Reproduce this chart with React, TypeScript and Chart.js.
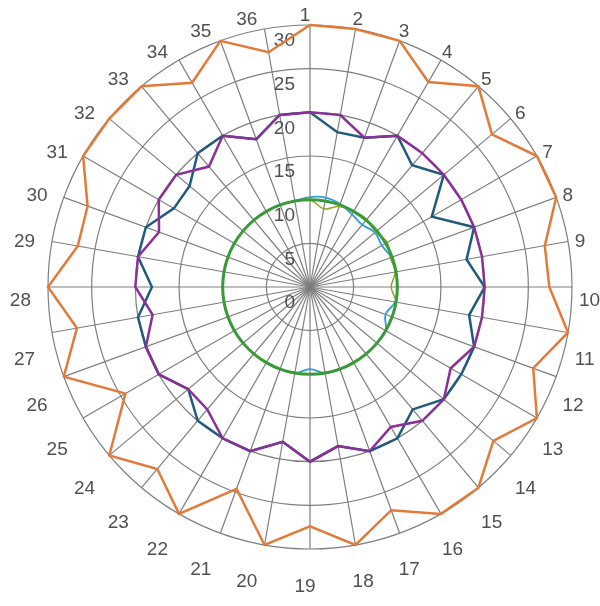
import { useEffect, useRef } from "react";
import { Chart, registerables } from "chart.js";

Chart.register(...registerables);

// spokes, clockwise from the top
const categories = [
  "1", "2", "3", "4", "5", "6", "7", "8", "9", "10", "11", "12",
  "13", "14", "15", "16", "17", "18", "19", "20", "21", "22", "23", "24",
  "25", "26", "27", "28", "29", "30", "31", "32", "33", "34", "35", "36",
];

const tickValues = [0, 5, 10, 15, 20, 25, 30];

const orangeValues = [
  30, 30, 30, 27.1, 30, 27.2, 30, 30, 27.3, 27.4, 30, 27.2,
  30, 27.4, 30, 30, 27.2, 30, 27.4, 30, 24.6, 30, 27.2, 30,
  24.4, 30, 27.1, 30, 27, 27.1, 30, 30, 30, 27, 30, 27.3,
];

const purpleValues = [
  20, 20, 18.2, 20, 20, 20, 20, 20, 20, 20, 20, 20,
  18.6, 20, 20, 18.5, 20, 18.5, 20, 18, 20, 20, 18.3, 18.2,
  20, 20, 18.3, 20, 20, 18.4, 20, 20, 18, 20, 18, 20,
];

const tealValues = [
  20, 18, 18.2, 20, 18.2, 20, 16.1, 20, 18.2, 20, 18.5, 20,
  20, 20, 18.3, 20, 20, 18.5, 20, 18, 20, 20, 20, 18.2,
  20, 20, 20, 18.1, 20, 20, 18, 18, 20, 20, 18, 20,
];

const greenValues = [
  10, 10, 10, 10, 10, 10, 10, 10, 10, 10, 10, 10,
  10, 10, 10, 10, 10, 10, 10, 10, 10, 10, 10, 10,
  10, 10, 10, 10, 10, 10, 10, 10, 10, 10, 10, 10,
];

const blueValues = [
  10.3, 10.4, 10.1, 9.6, 9.3, 9.7, 9.5, 9.9, 10, 10, 9.9, 9.2,
  10, 10, 10, 10, 10, 10, 9.4, 10, 10, 10, 10, 10,
  10, 10, 10, 10, 10, 10, 10, 10, 10, 10, 10, 10,
];

const oliveValues = [
  10, 9.1, 9.8, 10, 10.1, 9.8, 10.2, 9.8, 9.9, 9.3, 10, 10,
  10, 10, 10, 10, 10, 10, 10, 10, 10, 10, 10, 10,
  10, 10, 10, 10, 10, 10, 10, 10, 10, 10, 10, 10,
];

const LABEL_FONT = '19px "Liberation Sans", Arial, sans-serif';
const LABEL_COLOR = "#505050";
const GRID_COLOR = "#7e7e7e";

// tick and spoke labels sit a little lower / left than chart.js puts them
const radarLabels = {
  id: "radarLabels",
  beforeDatasetsDraw(chart: any) {
    const scale = chart.scales.r;
    const ctx = chart.ctx;
    ctx.save();
    ctx.font = LABEL_FONT;
    ctx.fillStyle = LABEL_COLOR;
    ctx.textBaseline = "middle";

    ctx.textAlign = "right";
    tickValues.forEach((v) => {
      const d = scale.getDistanceFromCenterForValue(v);
      ctx.fillText(String(v), scale.xCenter - 15, scale.yCenter - d + 16);
    });

    const lineH = 22.8;
    categories.forEach((label, i) => {
      const p = scale.getPointPosition(i, scale.drawingArea + 12);
      let deg = Math.round(((p.angle + Math.PI / 2) * 180) / Math.PI * 100) / 100;
      deg = ((deg % 360) + 360) % 360;
      const align = deg === 0 || deg === 180 ? "center" : deg < 180 ? "left" : "right";
      let y = p.y;
      if (deg === 90 || deg === 270) y = p.y;
      else if (deg > 270 || deg < 90) y = p.y - lineH / 2;
      else y = p.y + lineH / 2;
      ctx.textAlign = align;
      ctx.fillText(label, p.x - 5, y + 14);
    });
    ctx.restore();
  },
};

const App = () => {
  const chartRef = useRef<HTMLCanvasElement | null>(null);
  const chartInstance = useRef<Chart<"radar"> | null>(null);

  useEffect(() => {
    if (chartInstance.current) {
      chartInstance.current.destroy();
    }
    const ctx: any = chartRef.current?.getContext("2d");

    chartInstance.current = new Chart(ctx, {
      type: "radar",
      data: {
        labels: categories,
        datasets: [
          { label: "green", data: greenValues, borderColor: "#3a9a3a", borderWidth: 3, tension: 0.4 },
          { label: "purple", data: purpleValues, borderColor: "#8a3096", borderWidth: 2.5 },
          { label: "teal", data: tealValues, borderColor: "#1f5b7c", borderWidth: 2.5 },
          { label: "olive", data: oliveValues, borderColor: "#8fa824", borderWidth: 1.5, tension: 0.4 },
          { label: "blue", data: blueValues, borderColor: "#2e9fd8", borderWidth: 1.8, tension: 0.4 },
          { label: "orange", data: orangeValues, borderColor: "#e27b3a", borderWidth: 2.5 },
        ],
      },
      options: {
        responsive: true,
        maintainAspectRatio: false,
        animation: false,
        layout: { padding: { left: 48, right: 28, top: 25, bottom: 57 } },
        plugins: {
          legend: { display: false },
          tooltip: { enabled: false },
        },
        elements: {
          point: { radius: 0, hoverRadius: 0 },
          line: { fill: false },
        },
        scales: {
          r: {
            min: 0,
            max: 30,
            ticks: { display: false, stepSize: 5 },
            grid: { circular: true, color: GRID_COLOR, lineWidth: 1.2 },
            angleLines: { color: GRID_COLOR, lineWidth: 1.2 },
            pointLabels: { display: false },
          },
        },
      },
      plugins: [radarLabels],
    });

    return () => {
      if (chartInstance.current) {
        chartInstance.current.destroy();
        chartInstance.current = null;
      }
    };
  }, []);

  return (
    <div style={{ position: "absolute", left: 0, top: 0, width: 600, height: 606, background: "#fff" }}>
      <canvas ref={chartRef}></canvas>
    </div>
  );
};

export default App;
